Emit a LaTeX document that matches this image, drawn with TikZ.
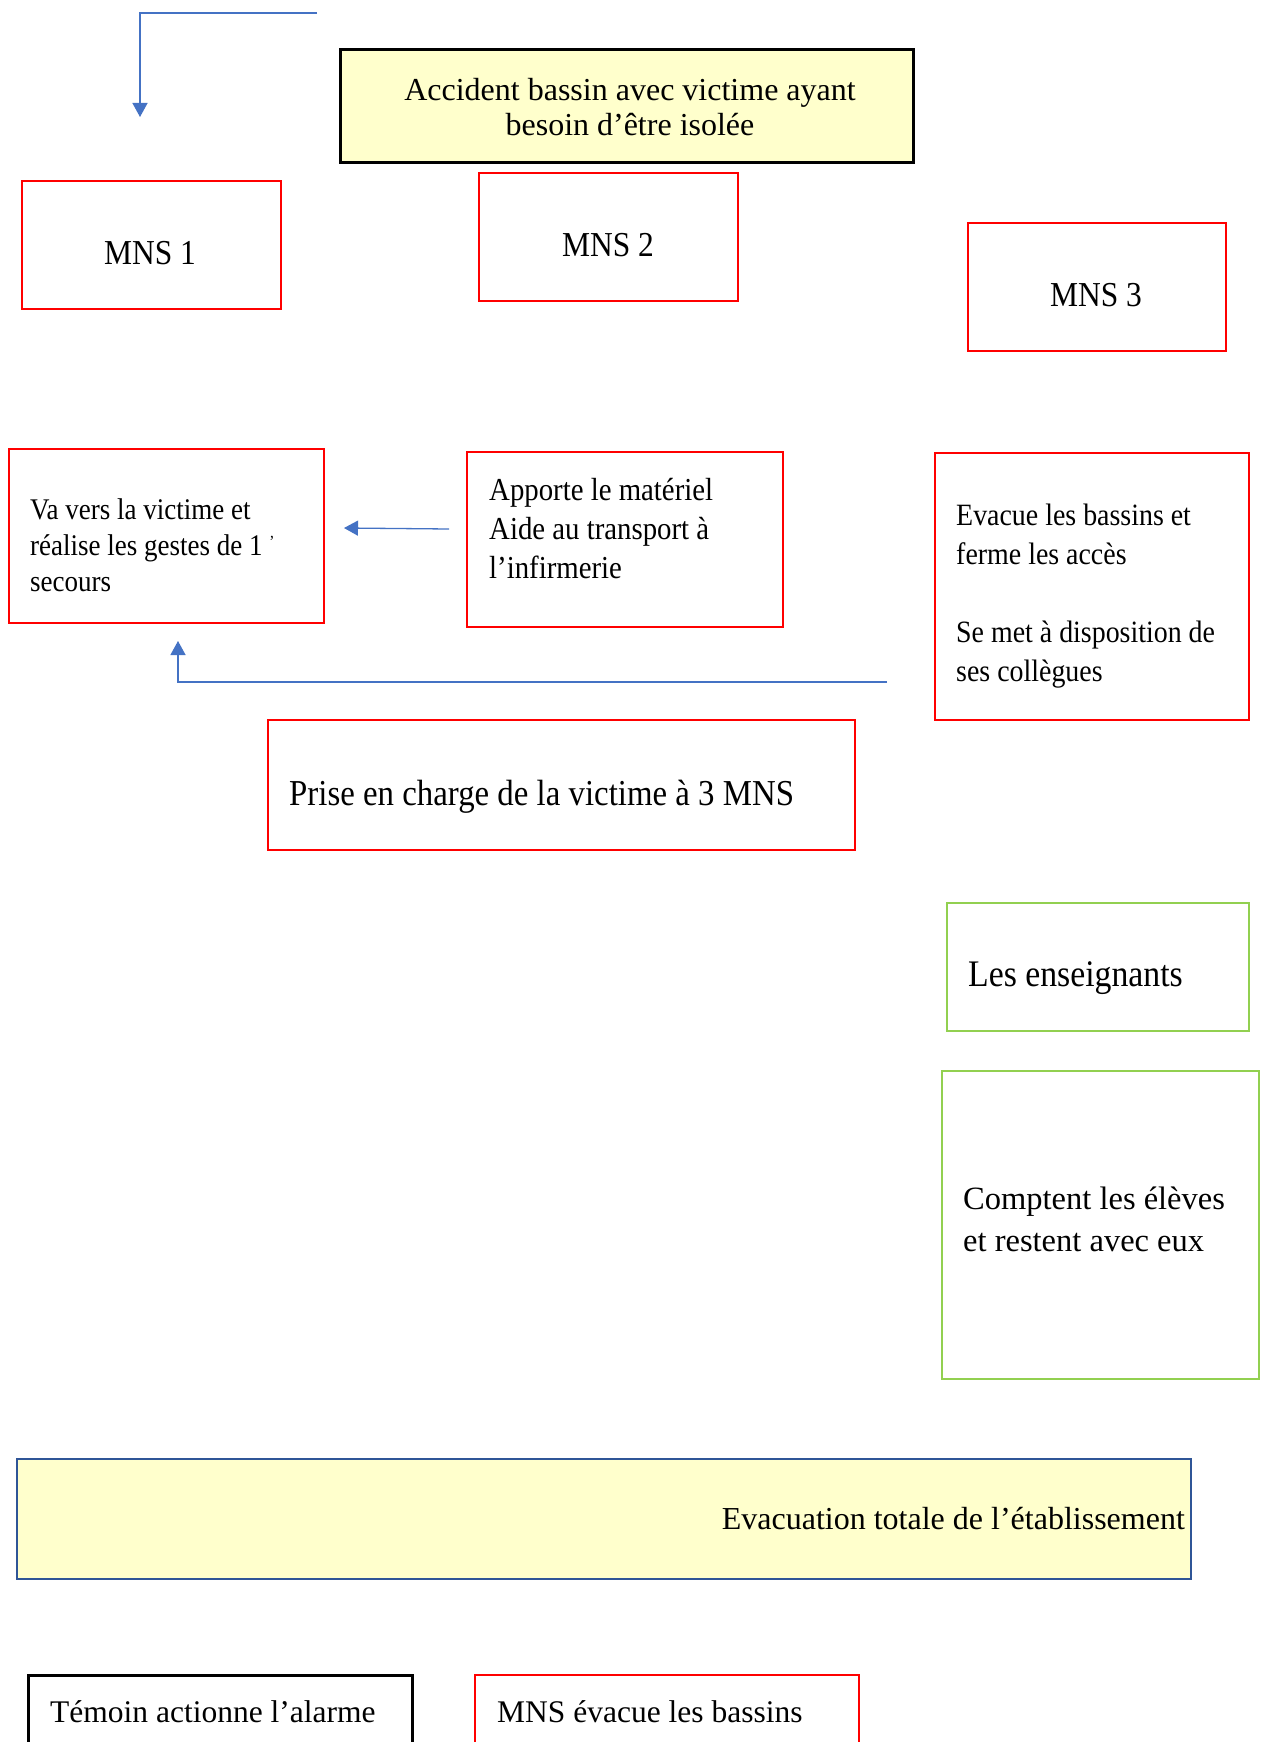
\documentclass[tikz,border=0pt]{standalone}
\usepackage{fontspec}
\setmainfont{Liberation Serif}
\newfontfamily\narrowserif[FakeStretch=0.9]{Liberation Serif}
\usetikzlibrary{arrows.meta}
\definecolor{boxyellow}{HTML}{FFFFCC}
\definecolor{arrowblue}{HTML}{4472C4}
\definecolor{frameblue}{HTML}{2F5597}
\definecolor{framegreen}{HTML}{92D050}
\tikzset{
	framenode/.style={
			shape=rectangle,
			inner sep=0pt,
			fill=white
		},
	redbox/.style={
			framenode,
			draw=red,
			line width=2pt
		},
	greenbox/.style={
			framenode,
			draw=framegreen,
			line width=2.5pt
		},
	blackbox/.style={
			framenode,
			draw=black,
			line width=3pt
		},
	titlebox/.style={
			blackbox,
			fill=boxyellow
		},
	evacbox/.style={
			framenode,
			draw=frameblue,
			line width=2.5pt,
			fill=boxyellow
		}
}
\tikzset{
	boxtext/.style={inner sep=0pt, align=left},
	flowarrow/.style={-{Triangle[length=14pt,width=15pt]}, draw=arrowblue, line width=1.3pt}
}

\begin{document}
\begin{tikzpicture}[x=1pt, y=-1pt]
	\clip (0,0) rectangle (1262,1742);
	\fill[white] (0,0) rectangle (1262,1742);

	% title and the three MNS
	\node[titlebox, minimum width=573pt, minimum height=112pt] (title) at (626.5,106) {};
	\node[redbox, minimum width=259pt, minimum height=128pt] (mns1) at (151.5,245) {};
	\node[redbox, minimum width=259pt, minimum height=128pt] (mns2) at (608.5,237) {};
	\node[redbox, minimum width=258pt, minimum height=128pt] (mns3) at (1097,287) {};

	\node[boxtext, align=center, font=\fontsize{32}{35}\selectfont] (titletxt) at (630,107) {Accident bassin avec victime ayant\\besoin d’être isolée};
	\node[boxtext, font=\narrowserif\fontsize{35}{40}\selectfont] (mns1txt) at (150,253) {MNS 1};
	\node[boxtext, font=\narrowserif\fontsize{35}{40}\selectfont] (mns2txt) at (608,245) {MNS 2};
	\node[boxtext, font=\narrowserif\fontsize{35}{40}\selectfont] (mns3txt) at (1096,295) {MNS 3};

	% tasks
	\node[redbox, minimum width=315pt, minimum height=174pt] (vavers) at (166.5,536) {};
	\node[redbox, minimum width=316pt, minimum height=175pt] (apporte) at (625,539.5) {};
	\node[redbox, minimum width=314pt, minimum height=267pt] (evacue) at (1092,586.5) {};
	\node[redbox, minimum width=587pt, minimum height=130pt] (prise) at (561.5,785) {};

	\node[boxtext, anchor=west, font=\narrowserif\fontsize{30}{36}\selectfont] (vaverstxt) at (30,545) {Va vers la victime et\\réalise les gestes de 1 \raisebox{0.55ex}{\fontsize{17}{17}\selectfont ’}\\secours};
	\node[boxtext, anchor=west, font=\narrowserif\fontsize{32}{39}\selectfont] (apportetxt) at (489,529) {Apporte le matériel\\Aide au transport à\\l’infirmerie};
	\node[boxtext, anchor=west, font=\narrowserif\fontsize{31}{39}\selectfont] (evacuetxt) at (956,596) {Evacue les bassins et\\ferme les accès\\[39pt]Se met à disposition de\\ses collègues};
	\node[boxtext, anchor=west, font=\narrowserif\fontsize{36.5}{40}\selectfont] (prisetxt) at (289,797) {Prise en charge de la victime à 3 MNS};

	\coordinate (topfrom) at (317,13);
	\coordinate (topto) at (140,117);
	\coordinate (midfrom) at (449,529);
	\coordinate (midto) at (344,528);
	\coordinate (lowfrom) at (887,682);
	\coordinate (lowto) at (178,641);
	\draw[flowarrow] (topfrom) -| (topto);
	\draw[flowarrow] (midfrom) -- (midto);
	\draw[flowarrow] (lowfrom) -| (lowto);

	% teachers
	\node[greenbox, minimum width=302pt, minimum height=128pt] (profs) at (1098,967) {};
	\node[greenbox, minimum width=317pt, minimum height=308pt] (comptent) at (1100.5,1225) {};
	\node[boxtext, anchor=west, font=\narrowserif\fontsize{37.5}{42}\selectfont] (profstxt) at (968,978) {Les enseignants};
	\node[boxtext, anchor=west, font=\fontsize{32.5}{42}\selectfont] (comptenttxt) at (963,1219) {Comptent les élèves\\et restent avec eux};

	% total evacuation
	\node[evacbox, minimum width=1174pt, minimum height=120pt] (evactotale) at (604,1519) {};
	\node[boxtext, anchor=east, font=\fontsize{32}{35}\selectfont] (evactotaletxt) at (1185,1519) {Evacuation totale de l’établissement};

	\node[blackbox, minimum width=384pt, minimum height=125pt] (temoin) at (220,1737.5) {};
	\node[redbox, minimum width=384pt, minimum height=125pt] (mnsevac) at (667,1737.5) {};
	\node[boxtext, anchor=west, font=\fontsize{31.5}{35}\selectfont] (temointxt) at (50,1712) {Témoin actionne l’alarme};
	\node[boxtext, anchor=west, font=\fontsize{31.5}{35}\selectfont] (mnsevactxt) at (497,1712) {MNS évacue les bassins};

\end{tikzpicture}
\end{document}
